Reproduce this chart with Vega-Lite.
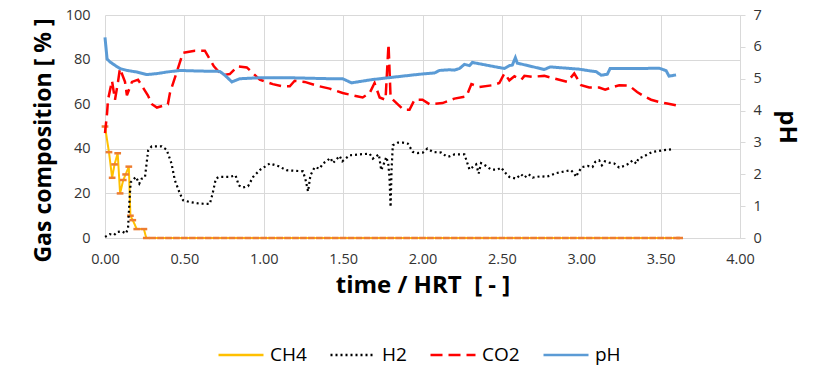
{
  "$schema": "https://vega.github.io/schema/vega-lite/v6.json",
  "width": 635,
  "height": 223,
  "autosize": {"type": "none"},
  "padding": {"left": 105, "top": 15, "right": 85, "bottom": 142},
  "config": {
    "font": "Open Sans",
    "view": {"stroke": null},
    "axis": {
      "gridColor": "#D9D9D9",
      "domainColor": "#D9D9D9",
      "tickColor": "#D9D9D9",
      "labelColor": "#333333",
      "labelFontSize": 14.5,
      "labelFont": "Open Sans",
      "titleFont": "Open Sans",
      "titleFontSize": 24,
      "titleFontWeight": "bold",
      "titleColor": "#000000",
      "labelFlush": false
    },
    "legend": {"labelFont": "Open Sans", "labelFontSize": 19, "labelColor": "#000000"}
  },
  "datasets": {
    "rows": [
      {"s": "CH4", "t": 0.0, "v": 50},
      {"s": "CH4", "t": 0.025, "v": 38.5},
      {"s": "CH4", "t": 0.045, "v": 27},
      {"s": "CH4", "t": 0.06, "v": 33},
      {"s": "CH4", "t": 0.08, "v": 38},
      {"s": "CH4", "t": 0.095, "v": 20},
      {"s": "CH4", "t": 0.115, "v": 26},
      {"s": "CH4", "t": 0.13, "v": 28.5},
      {"s": "CH4", "t": 0.15, "v": 32},
      {"s": "CH4", "t": 0.16, "v": 10},
      {"s": "CH4", "t": 0.175, "v": 8},
      {"s": "CH4", "t": 0.2, "v": 4},
      {"s": "CH4", "t": 0.245, "v": 4},
      {"s": "CH4", "t": 0.26, "v": 0},
      {"s": "CH4", "t": 0.3, "v": 0},
      {"s": "CH4", "t": 0.35, "v": 0},
      {"s": "CH4", "t": 0.4, "v": 0},
      {"s": "CH4", "t": 0.45, "v": 0},
      {"s": "CH4", "t": 0.5, "v": 0},
      {"s": "CH4", "t": 0.55, "v": 0},
      {"s": "CH4", "t": 0.6, "v": 0},
      {"s": "CH4", "t": 0.65, "v": 0},
      {"s": "CH4", "t": 0.7, "v": 0},
      {"s": "CH4", "t": 0.75, "v": 0},
      {"s": "CH4", "t": 0.8, "v": 0},
      {"s": "CH4", "t": 0.85, "v": 0},
      {"s": "CH4", "t": 0.9, "v": 0},
      {"s": "CH4", "t": 0.95, "v": 0},
      {"s": "CH4", "t": 1.0, "v": 0},
      {"s": "CH4", "t": 1.05, "v": 0},
      {"s": "CH4", "t": 1.1, "v": 0},
      {"s": "CH4", "t": 1.15, "v": 0},
      {"s": "CH4", "t": 1.2, "v": 0},
      {"s": "CH4", "t": 1.25, "v": 0},
      {"s": "CH4", "t": 1.3, "v": 0},
      {"s": "CH4", "t": 1.35, "v": 0},
      {"s": "CH4", "t": 1.4, "v": 0},
      {"s": "CH4", "t": 1.45, "v": 0},
      {"s": "CH4", "t": 1.5, "v": 0},
      {"s": "CH4", "t": 1.55, "v": 0},
      {"s": "CH4", "t": 1.6, "v": 0},
      {"s": "CH4", "t": 1.65, "v": 0},
      {"s": "CH4", "t": 1.7, "v": 0},
      {"s": "CH4", "t": 1.75, "v": 0},
      {"s": "CH4", "t": 1.8, "v": 0},
      {"s": "CH4", "t": 1.85, "v": 0},
      {"s": "CH4", "t": 1.9, "v": 0},
      {"s": "CH4", "t": 1.95, "v": 0},
      {"s": "CH4", "t": 2.0, "v": 0},
      {"s": "CH4", "t": 2.05, "v": 0},
      {"s": "CH4", "t": 2.1, "v": 0},
      {"s": "CH4", "t": 2.15, "v": 0},
      {"s": "CH4", "t": 2.2, "v": 0},
      {"s": "CH4", "t": 2.25, "v": 0},
      {"s": "CH4", "t": 2.3, "v": 0},
      {"s": "CH4", "t": 2.35, "v": 0},
      {"s": "CH4", "t": 2.4, "v": 0},
      {"s": "CH4", "t": 2.45, "v": 0},
      {"s": "CH4", "t": 2.5, "v": 0},
      {"s": "CH4", "t": 2.55, "v": 0},
      {"s": "CH4", "t": 2.6, "v": 0},
      {"s": "CH4", "t": 2.65, "v": 0},
      {"s": "CH4", "t": 2.7, "v": 0},
      {"s": "CH4", "t": 2.75, "v": 0},
      {"s": "CH4", "t": 2.8, "v": 0},
      {"s": "CH4", "t": 2.85, "v": 0},
      {"s": "CH4", "t": 2.9, "v": 0},
      {"s": "CH4", "t": 2.95, "v": 0},
      {"s": "CH4", "t": 3.0, "v": 0},
      {"s": "CH4", "t": 3.05, "v": 0},
      {"s": "CH4", "t": 3.1, "v": 0},
      {"s": "CH4", "t": 3.15, "v": 0},
      {"s": "CH4", "t": 3.2, "v": 0},
      {"s": "CH4", "t": 3.25, "v": 0},
      {"s": "CH4", "t": 3.3, "v": 0},
      {"s": "CH4", "t": 3.35, "v": 0},
      {"s": "CH4", "t": 3.4, "v": 0},
      {"s": "CH4", "t": 3.45, "v": 0},
      {"s": "CH4", "t": 3.5, "v": 0},
      {"s": "CH4", "t": 3.55, "v": 0},
      {"s": "CH4", "t": 3.6, "v": 0},
      {"s": "CH4", "t": 3.62, "v": 0},

      {"s": "H2", "t": 0.0, "v": 0.5},
      {"s": "H2", "t": 0.031, "v": 1.7},
      {"s": "H2", "t": 0.057, "v": 1.3},
      {"s": "H2", "t": 0.075, "v": 2.7},
      {"s": "H2", "t": 0.107, "v": 3},
      {"s": "H2", "t": 0.132, "v": 2},
      {"s": "H2", "t": 0.145, "v": 4.3},
      {"s": "H2", "t": 0.151, "v": 12.4},
      {"s": "H2", "t": 0.157, "v": 20},
      {"s": "H2", "t": 0.162, "v": 25},
      {"s": "H2", "t": 0.174, "v": 25.9},
      {"s": "H2", "t": 0.195, "v": 27.4},
      {"s": "H2", "t": 0.216, "v": 24.4},
      {"s": "H2", "t": 0.231, "v": 26.6},
      {"s": "H2", "t": 0.252, "v": 27.4},
      {"s": "H2", "t": 0.262, "v": 33.4},
      {"s": "H2", "t": 0.272, "v": 39.3},
      {"s": "H2", "t": 0.294, "v": 41.1},
      {"s": "H2", "t": 0.357, "v": 41.1},
      {"s": "H2", "t": 0.388, "v": 39.6},
      {"s": "H2", "t": 0.419, "v": 33.4},
      {"s": "H2", "t": 0.44, "v": 25.9},
      {"s": "H2", "t": 0.472, "v": 19.9},
      {"s": "H2", "t": 0.492, "v": 16.9},
      {"s": "H2", "t": 0.535, "v": 16.1},
      {"s": "H2", "t": 0.597, "v": 15.4},
      {"s": "H2", "t": 0.66, "v": 15.3},
      {"s": "H2", "t": 0.677, "v": 19.6},
      {"s": "H2", "t": 0.698, "v": 26.6},
      {"s": "H2", "t": 0.719, "v": 27.4},
      {"s": "H2", "t": 0.786, "v": 27.4},
      {"s": "H2", "t": 0.822, "v": 28.1},
      {"s": "H2", "t": 0.843, "v": 23.6},
      {"s": "H2", "t": 0.866, "v": 22.6},
      {"s": "H2", "t": 0.901, "v": 23.2},
      {"s": "H2", "t": 0.933, "v": 27.4},
      {"s": "H2", "t": 0.979, "v": 30.7},
      {"s": "H2", "t": 1.038, "v": 33.4},
      {"s": "H2", "t": 1.09, "v": 32.3},
      {"s": "H2", "t": 1.143, "v": 30.4},
      {"s": "H2", "t": 1.247, "v": 29.9},
      {"s": "H2", "t": 1.264, "v": 25.9},
      {"s": "H2", "t": 1.279, "v": 20.9},
      {"s": "H2", "t": 1.294, "v": 28.1},
      {"s": "H2", "t": 1.321, "v": 31.8},
      {"s": "H2", "t": 1.352, "v": 31.1},
      {"s": "H2", "t": 1.373, "v": 33.4},
      {"s": "H2", "t": 1.394, "v": 34.4},
      {"s": "H2", "t": 1.421, "v": 35.9},
      {"s": "H2", "t": 1.436, "v": 33.6},
      {"s": "H2", "t": 1.478, "v": 36.8},
      {"s": "H2", "t": 1.495, "v": 34.4},
      {"s": "H2", "t": 1.541, "v": 37.1},
      {"s": "H2", "t": 1.604, "v": 37.5},
      {"s": "H2", "t": 1.667, "v": 37.8},
      {"s": "H2", "t": 1.687, "v": 35.6},
      {"s": "H2", "t": 1.725, "v": 37.5},
      {"s": "H2", "t": 1.74, "v": 30.4},
      {"s": "H2", "t": 1.761, "v": 34.1},
      {"s": "H2", "t": 1.772, "v": 36.3},
      {"s": "H2", "t": 1.784, "v": 33.4},
      {"s": "H2", "t": 1.792, "v": 27.4},
      {"s": "H2", "t": 1.799, "v": 13.9},
      {"s": "H2", "t": 1.805, "v": 30.4},
      {"s": "H2", "t": 1.813, "v": 41.6},
      {"s": "H2", "t": 1.845, "v": 42.8},
      {"s": "H2", "t": 1.876, "v": 42.8},
      {"s": "H2", "t": 1.908, "v": 42.3},
      {"s": "H2", "t": 1.939, "v": 38.6},
      {"s": "H2", "t": 1.97, "v": 38.1},
      {"s": "H2", "t": 2.002, "v": 38.3},
      {"s": "H2", "t": 2.03, "v": 40.1},
      {"s": "H2", "t": 2.065, "v": 38.6},
      {"s": "H2", "t": 2.118, "v": 38.3},
      {"s": "H2", "t": 2.151, "v": 36.6},
      {"s": "H2", "t": 2.17, "v": 36.6},
      {"s": "H2", "t": 2.201, "v": 37.5},
      {"s": "H2", "t": 2.264, "v": 37.5},
      {"s": "H2", "t": 2.275, "v": 35.2},
      {"s": "H2", "t": 2.296, "v": 30.7},
      {"s": "H2", "t": 2.316, "v": 31.8},
      {"s": "H2", "t": 2.338, "v": 33},
      {"s": "H2", "t": 2.354, "v": 28.9},
      {"s": "H2", "t": 2.369, "v": 33.6},
      {"s": "H2", "t": 2.401, "v": 32.3},
      {"s": "H2", "t": 2.432, "v": 30.7},
      {"s": "H2", "t": 2.474, "v": 30.7},
      {"s": "H2", "t": 2.495, "v": 31.6},
      {"s": "H2", "t": 2.526, "v": 28.9},
      {"s": "H2", "t": 2.547, "v": 27.4},
      {"s": "H2", "t": 2.589, "v": 26.6},
      {"s": "H2", "t": 2.621, "v": 28.6},
      {"s": "H2", "t": 2.642, "v": 27.1},
      {"s": "H2", "t": 2.669, "v": 28.6},
      {"s": "H2", "t": 2.694, "v": 27.1},
      {"s": "H2", "t": 2.746, "v": 27.7},
      {"s": "H2", "t": 2.778, "v": 27.4},
      {"s": "H2", "t": 2.809, "v": 28.1},
      {"s": "H2", "t": 2.841, "v": 29.1},
      {"s": "H2", "t": 2.904, "v": 30},
      {"s": "H2", "t": 2.935, "v": 30.4},
      {"s": "H2", "t": 2.956, "v": 28.9},
      {"s": "H2", "t": 2.967, "v": 27.4},
      {"s": "H2", "t": 2.983, "v": 29.6},
      {"s": "H2", "t": 3.004, "v": 31.8},
      {"s": "H2", "t": 3.04, "v": 32.3},
      {"s": "H2", "t": 3.071, "v": 31.8},
      {"s": "H2", "t": 3.088, "v": 34.1},
      {"s": "H2", "t": 3.113, "v": 34.8},
      {"s": "H2", "t": 3.13, "v": 32.6},
      {"s": "H2", "t": 3.149, "v": 34.4},
      {"s": "H2", "t": 3.176, "v": 33.8},
      {"s": "H2", "t": 3.208, "v": 33.4},
      {"s": "H2", "t": 3.239, "v": 31.6},
      {"s": "H2", "t": 3.27, "v": 32.3},
      {"s": "H2", "t": 3.302, "v": 33.4},
      {"s": "H2", "t": 3.323, "v": 34.8},
      {"s": "H2", "t": 3.348, "v": 33.4},
      {"s": "H2", "t": 3.36, "v": 35.6},
      {"s": "H2", "t": 3.386, "v": 36.3},
      {"s": "H2", "t": 3.417, "v": 37.5},
      {"s": "H2", "t": 3.448, "v": 38.6},
      {"s": "H2", "t": 3.48, "v": 38.9},
      {"s": "H2", "t": 3.511, "v": 39.3},
      {"s": "H2", "t": 3.549, "v": 39.6},
      {"s": "H2", "t": 3.581, "v": 39.9},

      {"s": "CO2", "t": 0.0, "v": 47},
      {"s": "CO2", "t": 0.013, "v": 56},
      {"s": "CO2", "t": 0.019, "v": 62},
      {"s": "CO2", "t": 0.044, "v": 70.5},
      {"s": "CO2", "t": 0.063, "v": 62},
      {"s": "CO2", "t": 0.082, "v": 70},
      {"s": "CO2", "t": 0.094, "v": 76},
      {"s": "CO2", "t": 0.126, "v": 70},
      {"s": "CO2", "t": 0.138, "v": 64},
      {"s": "CO2", "t": 0.17, "v": 70},
      {"s": "CO2", "t": 0.208, "v": 71},
      {"s": "CO2", "t": 0.27, "v": 64},
      {"s": "CO2", "t": 0.296, "v": 60},
      {"s": "CO2", "t": 0.327, "v": 58.5},
      {"s": "CO2", "t": 0.396, "v": 60},
      {"s": "CO2", "t": 0.409, "v": 65},
      {"s": "CO2", "t": 0.491, "v": 83},
      {"s": "CO2", "t": 0.566, "v": 84},
      {"s": "CO2", "t": 0.629, "v": 84},
      {"s": "CO2", "t": 0.686, "v": 77},
      {"s": "CO2", "t": 0.736, "v": 73},
      {"s": "CO2", "t": 0.786, "v": 73.5},
      {"s": "CO2", "t": 0.836, "v": 77},
      {"s": "CO2", "t": 0.893, "v": 76.5},
      {"s": "CO2", "t": 0.975, "v": 71},
      {"s": "CO2", "t": 1.057, "v": 69},
      {"s": "CO2", "t": 1.119, "v": 68},
      {"s": "CO2", "t": 1.164, "v": 68},
      {"s": "CO2", "t": 1.195, "v": 70.5},
      {"s": "CO2", "t": 1.258, "v": 70},
      {"s": "CO2", "t": 1.352, "v": 68},
      {"s": "CO2", "t": 1.415, "v": 67},
      {"s": "CO2", "t": 1.497, "v": 65},
      {"s": "CO2", "t": 1.623, "v": 63},
      {"s": "CO2", "t": 1.667, "v": 65},
      {"s": "CO2", "t": 1.698, "v": 69.5},
      {"s": "CO2", "t": 1.73, "v": 63},
      {"s": "CO2", "t": 1.767, "v": 62},
      {"s": "CO2", "t": 1.786, "v": 87},
      {"s": "CO2", "t": 1.799, "v": 63},
      {"s": "CO2", "t": 1.843, "v": 60},
      {"s": "CO2", "t": 1.881, "v": 57.5},
      {"s": "CO2", "t": 1.918, "v": 57.5},
      {"s": "CO2", "t": 1.95, "v": 62},
      {"s": "CO2", "t": 2.0, "v": 62},
      {"s": "CO2", "t": 2.044, "v": 60},
      {"s": "CO2", "t": 2.126, "v": 60.5},
      {"s": "CO2", "t": 2.201, "v": 62.5},
      {"s": "CO2", "t": 2.277, "v": 63.5},
      {"s": "CO2", "t": 2.308, "v": 69},
      {"s": "CO2", "t": 2.358, "v": 67.7},
      {"s": "CO2", "t": 2.44, "v": 68.5},
      {"s": "CO2", "t": 2.484, "v": 69.5},
      {"s": "CO2", "t": 2.516, "v": 73.8},
      {"s": "CO2", "t": 2.547, "v": 70.7},
      {"s": "CO2", "t": 2.579, "v": 72.5},
      {"s": "CO2", "t": 2.623, "v": 71},
      {"s": "CO2", "t": 2.642, "v": 72.7},
      {"s": "CO2", "t": 2.692, "v": 72.3},
      {"s": "CO2", "t": 2.767, "v": 72.7},
      {"s": "CO2", "t": 2.843, "v": 71.3},
      {"s": "CO2", "t": 2.912, "v": 70},
      {"s": "CO2", "t": 2.956, "v": 73.8},
      {"s": "CO2", "t": 3.0, "v": 68.5},
      {"s": "CO2", "t": 3.05, "v": 67.5},
      {"s": "CO2", "t": 3.113, "v": 67.5},
      {"s": "CO2", "t": 3.151, "v": 66.5},
      {"s": "CO2", "t": 3.189, "v": 67.5},
      {"s": "CO2", "t": 3.239, "v": 68.5},
      {"s": "CO2", "t": 3.302, "v": 68.3},
      {"s": "CO2", "t": 3.352, "v": 65.5},
      {"s": "CO2", "t": 3.396, "v": 63.5},
      {"s": "CO2", "t": 3.44, "v": 62},
      {"s": "CO2", "t": 3.491, "v": 61},
      {"s": "CO2", "t": 3.541, "v": 60.3},
      {"s": "CO2", "t": 3.597, "v": 59.5},

      {"s": "pH", "t": 0.0, "v": 6.3},
      {"s": "pH", "t": 0.013, "v": 5.62},
      {"s": "pH", "t": 0.031, "v": 5.53},
      {"s": "pH", "t": 0.063, "v": 5.42},
      {"s": "pH", "t": 0.094, "v": 5.32},
      {"s": "pH", "t": 0.138, "v": 5.26},
      {"s": "pH", "t": 0.201, "v": 5.21},
      {"s": "pH", "t": 0.264, "v": 5.13},
      {"s": "pH", "t": 0.327, "v": 5.16},
      {"s": "pH", "t": 0.39, "v": 5.21},
      {"s": "pH", "t": 0.472, "v": 5.26},
      {"s": "pH", "t": 0.597, "v": 5.24},
      {"s": "pH", "t": 0.723, "v": 5.23},
      {"s": "pH", "t": 0.755, "v": 5.11},
      {"s": "pH", "t": 0.799, "v": 4.9},
      {"s": "pH", "t": 0.849, "v": 5.0},
      {"s": "pH", "t": 0.975, "v": 5.03},
      {"s": "pH", "t": 1.164, "v": 5.03},
      {"s": "pH", "t": 1.415, "v": 5.0},
      {"s": "pH", "t": 1.497, "v": 5.0},
      {"s": "pH", "t": 1.553, "v": 4.87},
      {"s": "pH", "t": 1.679, "v": 4.97},
      {"s": "pH", "t": 1.855, "v": 5.07},
      {"s": "pH", "t": 1.981, "v": 5.14},
      {"s": "pH", "t": 2.075, "v": 5.18},
      {"s": "pH", "t": 2.107, "v": 5.26},
      {"s": "pH", "t": 2.17, "v": 5.28},
      {"s": "pH", "t": 2.201, "v": 5.27},
      {"s": "pH", "t": 2.233, "v": 5.32},
      {"s": "pH", "t": 2.264, "v": 5.45},
      {"s": "pH", "t": 2.296, "v": 5.41},
      {"s": "pH", "t": 2.314, "v": 5.51},
      {"s": "pH", "t": 2.516, "v": 5.32},
      {"s": "pH", "t": 2.547, "v": 5.41},
      {"s": "pH", "t": 2.566, "v": 5.43},
      {"s": "pH", "t": 2.585, "v": 5.66},
      {"s": "pH", "t": 2.597, "v": 5.49},
      {"s": "pH", "t": 2.767, "v": 5.29},
      {"s": "pH", "t": 2.805, "v": 5.37},
      {"s": "pH", "t": 2.987, "v": 5.3},
      {"s": "pH", "t": 3.05, "v": 5.25},
      {"s": "pH", "t": 3.094, "v": 5.22},
      {"s": "pH", "t": 3.126, "v": 5.11},
      {"s": "pH", "t": 3.164, "v": 5.14},
      {"s": "pH", "t": 3.182, "v": 5.32},
      {"s": "pH", "t": 3.365, "v": 5.32},
      {"s": "pH", "t": 3.491, "v": 5.33},
      {"s": "pH", "t": 3.509, "v": 5.3},
      {"s": "pH", "t": 3.535, "v": 5.25},
      {"s": "pH", "t": 3.553, "v": 5.08},
      {"s": "pH", "t": 3.597, "v": 5.12}
    ]
  },
  "layer": [
    {
      "layer": [
        {
          "data": {"name": "rows"},
          "transform": [{"filter": "datum.s === 'CH4'"}],
          "mark": {"type": "line", "strokeWidth": 2},
          "encoding": {
            "x": {"field": "t", "type": "quantitative", "scale": {"domain": [0, 4], "nice": false, "padding": 0, "zero": false},
              "axis": {"values": [0, 0.5, 1, 1.5, 2, 2.5, 3, 3.5, 4], "format": ".2f", "title": "time / HRT\u00a0\u00a0[ - ]", "ticks": false, "grid": true, "labelFlush": false, "labelPadding": 14, "titlePadding": 8}},
            "y": {"field": "v", "type": "quantitative", "scale": {"domain": [0, 100], "nice": false, "padding": 0},
              "axis": {"values": [0, 20, 40, 60, 80, 100], "title": "Gas composition [ % ]", "titleFontSize": 23, "titleY": 125, "ticks": false, "domain": false, "grid": true, "labelFlush": false, "labelPadding": 15, "titlePadding": 10}},
            "color": {"field": "s", "type": "nominal",
              "scale": {"domain": ["CH4", "H2", "CO2", "pH"], "range": ["#FFC000", "#000000", "#FF0000", "#5B9BD5"]},
              "legend": {"title": null, "orient": "none", "legendX": 112, "legendY": 316, "direction": "horizontal", "symbolType": "stroke", "symbolSize": 2025, "symbolStrokeWidth": 2.5, "labelOffset": 5, "columnPadding": 18}},
            "strokeDash": {"field": "s", "type": "nominal",
              "scale": {"domain": ["CH4", "H2", "CO2", "pH"], "range": [[1, 0], [2, 3], [12, 6], [1, 0]]},
              "legend": {"title": null, "orient": "none", "legendX": 112, "legendY": 316, "direction": "horizontal", "symbolType": "stroke", "symbolSize": 2025, "symbolStrokeWidth": 2.5, "labelOffset": 5, "columnPadding": 18}}
          }
        },
        {
          "data": {"name": "rows"},
          "transform": [{"filter": "datum.s === 'CH4'"}],
          "mark": {"type": "point", "shape": "M-1,0L1,0", "filled": false, "color": "#ED7D31", "strokeWidth": 2.5, "size": 45, "opacity": 1},
          "encoding": {
            "x": {"field": "t", "type": "quantitative"},
            "y": {"field": "v", "type": "quantitative"}
          }
        },
        {
          "data": {"name": "rows"},
          "transform": [{"filter": "datum.s === 'H2'"}],
          "mark": {"type": "line", "strokeWidth": 2.2},
          "encoding": {
            "x": {"field": "t", "type": "quantitative"},
            "y": {"field": "v", "type": "quantitative"},
            "color": {"field": "s", "type": "nominal"},
            "strokeDash": {"field": "s", "type": "nominal"}
          }
        },
        {
          "data": {"name": "rows"},
          "transform": [{"filter": "datum.s === 'CO2'"}],
          "mark": {"type": "line", "strokeWidth": 2.5},
          "encoding": {
            "x": {"field": "t", "type": "quantitative"},
            "y": {"field": "v", "type": "quantitative"},
            "color": {"field": "s", "type": "nominal"},
            "strokeDash": {"field": "s", "type": "nominal"}
          }
        }
      ]
    },
    {
      "data": {"name": "rows"},
      "transform": [{"filter": "datum.s === 'pH'"}],
      "mark": {"type": "line", "strokeWidth": 3},
      "encoding": {
        "x": {"field": "t", "type": "quantitative"},
        "y": {"field": "v", "type": "quantitative", "scale": {"domain": [0, 7], "nice": false, "padding": 0},
          "axis": {"orient": "right", "values": [0, 1, 2, 3, 4, 5, 6, 7], "title": "pH", "grid": false, "ticks": true, "tickSize": 5, "domain": true, "labelFlush": false, "labelPadding": 8, "titlePadding": 13}},
        "color": {"field": "s", "type": "nominal"},
        "strokeDash": {"field": "s", "type": "nominal"}
      }
    }
  ],
  "resolve": {"scale": {"y": "independent"}, "axis": {"y": "independent"}}
}
